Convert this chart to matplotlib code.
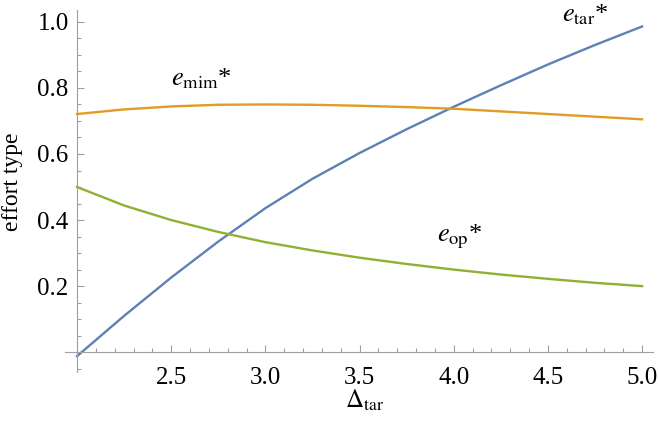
import matplotlib
matplotlib.use("Agg")
import matplotlib.pyplot as plt
from matplotlib.ticker import FixedLocator, MultipleLocator, FormatStrFormatter

plt.rcParams['font.family'] = ['Liberation Serif', 'DejaVu Serif']
plt.rcParams['mathtext.fontset'] = 'stix'

# values
delta_tar = [2.0, 2.25, 2.5, 2.75, 3.0, 3.25, 3.5, 3.75, 4.0, 4.25, 4.5, 4.75, 5.0]
e_tar = [-0.012, 0.110, 0.226, 0.335, 0.436, 0.525, 0.603, 0.675, 0.743, 0.808, 0.871, 0.930, 0.986]
e_mim = [0.721, 0.735, 0.744, 0.749, 0.750, 0.749, 0.746, 0.742, 0.737, 0.729, 0.721, 0.713, 0.705]
e_op = [0.500, 0.444, 0.400, 0.364, 0.333, 0.308, 0.286, 0.267, 0.250, 0.235, 0.222, 0.210, 0.200]

x_ticks = [2.5, 3.0, 3.5, 4.0, 4.5, 5.0]
y_ticks = [0.2, 0.4, 0.6, 0.8, 1.0]

fig = plt.figure(figsize=(6.58, 4.23), dpi=100)
ax = fig.add_axes([0.0988, 0.1206, 0.8936, 0.8558])

ax.plot(delta_tar, e_tar, color='#5E81B5', lw=1.7)
ax.plot(delta_tar, e_mim, color='#E19C24', lw=1.7)
ax.plot(delta_tar, e_op, color='#8FB032', lw=1.7)

ax.set_xlim(1.936, 5.058)
ax.set_ylim(-0.06, 1.036)

axis_grey = '#a0a0a0'
for s in ['top', 'right']:
    ax.spines[s].set_visible(False)
ax.spines['left'].set_position(('data', 2.0))
ax.spines['bottom'].set_position(('data', 0.0))
ax.spines['left'].set_color(axis_grey)
ax.spines['bottom'].set_color(axis_grey)
ax.spines['left'].set_linewidth(0.8)
ax.spines['bottom'].set_linewidth(0.8)

ax.xaxis.set_major_locator(FixedLocator(x_ticks))
ax.xaxis.set_minor_locator(MultipleLocator(0.1))
ax.yaxis.set_major_locator(FixedLocator(y_ticks))
ax.yaxis.set_minor_locator(MultipleLocator(0.05))
ax.xaxis.set_major_formatter(FormatStrFormatter('%.1f'))
ax.yaxis.set_major_formatter(FormatStrFormatter('%.1f'))

ax.tick_params(which='both', direction='in', color=axis_grey, width=0.8)
ax.tick_params(which='major', length=5, labelsize=18)
ax.tick_params(which='minor', length=3)
ax.tick_params(axis='x', which='major', pad=11)
ax.tick_params(axis='y', which='major', pad=6)

# curve labels, star in plain serif so it sits a bit lower than a superscript
ax.text(2.66, 0.809, r'$e_{\mathrm{mim}}$*', fontsize=19, ha='center', va='baseline')
ax.text(4.70, 1.001, r'$e_{\mathrm{tar}}$*', fontsize=19, ha='center', va='baseline')
ax.text(4.03, 0.334, r'$e_{\mathrm{op}}$*', fontsize=19, ha='center', va='baseline')

fig.text(13 / 658, 1 - 182 / 423, 'effort type', rotation=90, fontsize=17,
         ha='center', va='center')
fig.text(365 / 658, 1 - 408 / 423, r'$\Delta_{\mathrm{tar}}$', fontsize=18,
         ha='center', va='baseline')

fig.savefig('out.png', dpi=100)
